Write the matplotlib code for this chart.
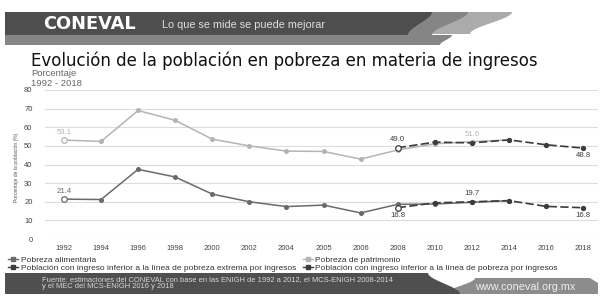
#!/usr/bin/env python3
"""Evolución de la población en pobreza en materia de ingresos (CONEVAL), 1992-2018."""

import matplotlib

matplotlib.use("Agg")

import matplotlib.pyplot as plt
import numpy as np
from matplotlib.lines import Line2D
from matplotlib.patches import Polygon

plt.rcParams["font.family"] = ["Liberation Sans", "DejaVu Sans"]

NAN = np.nan

years = ["1992", "1994", "1996", "1998", "2000", "2002", "2004", "2005",
         "2006", "2008", "2010", "2012", "2014", "2016", "2018"]
pobreza_patrimonio = [53.1, 52.4, 69.0, 63.7, 53.6, 50.0, 47.2, 47.0,
                      42.9, 47.8, 51.1, 52.3, 53.2, NAN, NAN]
pobreza_alimentaria = [21.4, 21.2, 37.4, 33.3, 24.1, 20.0, 17.4, 18.2,
                       14.0, 18.6, 18.8, 19.7, 20.6, NAN, NAN]
lp_ingresos = [NAN, NAN, NAN, NAN, NAN, NAN, NAN, NAN,
               NAN, 49.0, 52.0, 51.6, 53.2, 50.6, 48.8]
lp_extrema = [NAN, NAN, NAN, NAN, NAN, NAN, NAN, NAN,
              NAN, 16.8, 19.4, 20.0, 20.6, 17.5, 16.8]
y_ticks = [0, 10, 20, 30, 40, 50, 60, 70, 80]

LIGHT = "#b4b4b4"
MID = "#6a6a6a"
DARK = "#3c3c3c"

W, H = 603, 297


def fx(px):
    return px / W


def fy(py):
    return 1 - py / H


def s_curve(x0, y0, x1, y1, n=30):
    t = np.linspace(0, 1, n)
    s = t * t * (3 - 2 * t)
    return np.column_stack([x0 + (x1 - x0) * s, y0 + (y1 - y0) * t])


fig = plt.figure(figsize=(W / 100, H / 100), dpi=100)
fig.patch.set_facecolor("white")

# --- decorative banners, drawn in pixel coordinates ---
bg = fig.add_axes([0, 0, 1, 1], zorder=0)
bg.set_xlim(0, W)
bg.set_ylim(H, 0)
bg.axis("off")

# header swooshes
pts = np.vstack([[[5, 12]], s_curve(512, 12, 470, 34), [[5, 34]]])
bg.add_patch(Polygon(pts, closed=True, color="#ababab", lw=0))
pts = np.vstack([[[5, 12]], s_curve(468, 12, 432, 35), s_curve(452, 35, 440, 45), [[5, 45]]])
bg.add_patch(Polygon(pts, closed=True, color="#858585", lw=0))
pts = np.vstack([[[5, 12]], s_curve(432, 12, 408, 35), [[5, 35]]])
bg.add_patch(Polygon(pts, closed=True, color="#4e4e4e", lw=0))
bg.text(43, 24, "CONEVAL", color="white", fontsize=12.8, fontweight="heavy",
        family="DejaVu Sans", va="center", ha="left")
bg.text(162, 25, "Lo que se mide se puede mejorar", color="#e0e0e0",
        fontsize=7.8, va="center", ha="left")

# footer bands
pts = np.vstack([s_curve(445, 294, 475, 278), [[590, 278], [598, 283], [598, 294]]])
bg.add_patch(Polygon(pts, closed=True, color="#8c8c8c", lw=0))
pts = np.vstack([[[5, 273], [428, 273]], s_curve(428, 273, 460, 294), [[5, 294]]])
bg.add_patch(Polygon(pts, closed=True, color="#4f4f4f", lw=0))
bg.text(42, 279.5, "Fuente: estimaciones del CONEVAL con base en las ENIGH de 1992 a 2012, "
        "el MCS-ENIGH 2008-2014", color="#d8d8d8", fontsize=5.4, va="center")
bg.text(42, 286, "y el MEC del MCS-ENIGH 2016 y 2018", color="#d8d8d8",
        fontsize=5.4, va="center")
bg.text(525, 287, "www.coneval.org.mx", color="#efefef", fontsize=7.8,
        va="center", ha="center")

# titles
bg.text(31, 65.5, "Evolución de la población en pobreza en materia de ingresos",
        fontsize=12.0, family="DejaVu Sans", color="#111111", va="baseline", ha="left")
bg.text(31, 69.5, "Porcentaje", fontsize=6.8, color="#666666", va="top", ha="left")
bg.text(31, 78.5, "1992 - 2018", fontsize=6.8, color="#666666", va="top", ha="left")
bg.text(17, 167, "Porcentaje de la población (%)", fontsize=3.6, color="#555555",
        rotation=90, va="center", ha="center")

# --- chart ---
ax = fig.add_axes([fx(45), fy(239), fx(598) - fx(45), fy(90) - fy(239)], zorder=1)
ax.set_facecolor("none")
x = np.arange(len(years))

ax.plot(x, pobreza_patrimonio, color=LIGHT, lw=1.1, marker="o", ms=2.6,
        mfc=LIGHT, mec=LIGHT, zorder=2)
ax.plot(x, pobreza_alimentaria, color=MID, lw=1.1, marker="o", ms=2.6,
        mfc=MID, mec=MID, zorder=2)
ax.plot(x, lp_ingresos, color=DARK, lw=1.2, ls=(0, (5, 2)), marker="o", ms=2.8,
        mfc=DARK, mec=DARK, zorder=3)
ax.plot(x, lp_extrema, color=DARK, lw=1.2, ls=(0, (5, 2)), marker="o", ms=2.8,
        mfc=DARK, mec=DARK, zorder=3)

# open markers on the labelled starting points
ax.plot(x[0], pobreza_patrimonio[0], "o", ms=4, mfc="white", mec=LIGHT, mew=0.9, zorder=4)
ax.plot(x[0], pobreza_alimentaria[0], "o", ms=4, mfc="white", mec=MID, mew=0.9, zorder=4)
ax.plot(x[9], lp_ingresos[9], "o", ms=4, mfc="white", mec=DARK, mew=0.9, zorder=4)
ax.plot(x[9], lp_extrema[9], "o", ms=4, mfc="white", mec=DARK, mew=0.9, zorder=4)

lab = dict(fontsize=5.6, ha="center", zorder=5)
ax.text(x[0], pobreza_patrimonio[0] + 2.3, f"{pobreza_patrimonio[0]:.1f}", color=LIGHT, va="bottom", **lab)
ax.text(x[0], pobreza_alimentaria[0] + 2.3, f"{pobreza_alimentaria[0]:.1f}", color=MID, va="bottom", **lab)
ax.text(x[9], lp_ingresos[9] + 2.3, f"{lp_ingresos[9]:.1f}", color=DARK, va="bottom", **lab)
ax.text(x[11], lp_ingresos[11] + 2.6, f"{lp_ingresos[11]:.1f}", color=LIGHT, va="bottom", **lab)
ax.text(x[14], lp_ingresos[14] - 2.3, f"{lp_ingresos[14]:.1f}", color=DARK, va="top", **lab)
ax.text(x[9], lp_extrema[9] - 2.3, f"{lp_extrema[9]:.1f}", color=DARK, va="top", **lab)
ax.text(x[11], lp_extrema[11] + 2.3, f"{pobreza_alimentaria[11]:.1f}", color=DARK, va="bottom", **lab)
ax.text(x[14], lp_extrema[14] - 2.3, f"{lp_extrema[14]:.1f}", color=DARK, va="top", **lab)

ax.set_xlim(-0.51, 14.4)
ax.set_ylim(0, 80)
ax.set_yticks(y_ticks)
ax.set_yticklabels([str(v) for v in y_ticks])
ax.set_xticks(x)
ax.set_xticklabels(years)
ax.grid(axis="y", color="#dcdcdc", lw=0.8)
ax.set_axisbelow(True)
for sp in ax.spines.values():
    sp.set_visible(False)
ax.tick_params(axis="both", length=0, labelsize=5.5, colors="#444444")
ax.tick_params(axis="y", pad=9)
ax.tick_params(axis="x", pad=4)

handles = [
    Line2D([0], [0], color=MID, lw=1, marker="s", ms=2.5, label="Pobreza alimentaria"),
    Line2D([0], [0], color=DARK, lw=1, marker="s", ms=2.5,
           label="Población con ingreso inferior a la línea de pobreza extrema por ingresos"),
    Line2D([0], [0], color=LIGHT, lw=1, marker="s", ms=2.5, label="Pobreza de patrimonio"),
    Line2D([0], [0], color=DARK, lw=1, marker="s", ms=2.5,
           label="Población con ingreso inferior a la línea de pobreza por ingresos"),
]
fig.legend(handles=handles, ncol=2, loc="upper left", bbox_to_anchor=(fx(4), fy(252)),
           frameon=False, fontsize=6.0, handlelength=1.2, handletextpad=0.3,
           columnspacing=0.8, labelspacing=0.05, borderpad=0, labelcolor="#333333")

fig.savefig("out.png", dpi=100)
